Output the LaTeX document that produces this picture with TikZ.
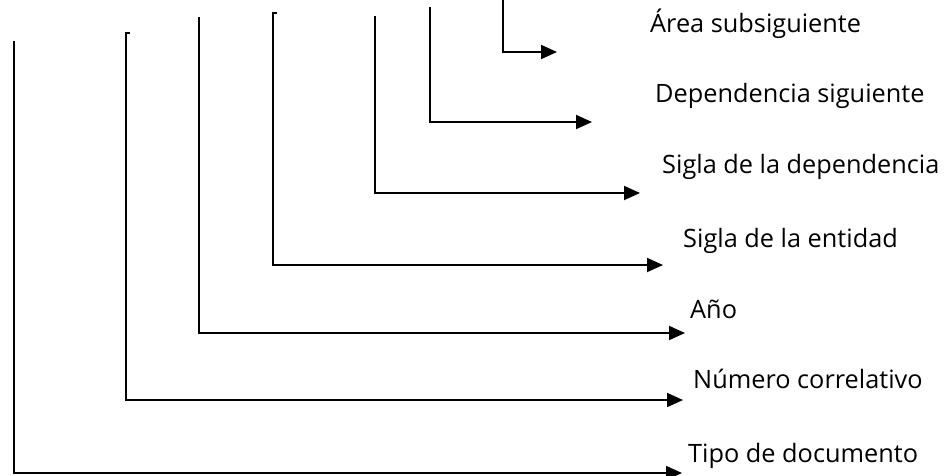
\documentclass[tikz,border=0pt]{standalone}
\usepackage{fontspec}
\setmainfont{Open Sans}
\usetikzlibrary{arrows.meta}

\tikzset{
  label/.style={anchor=base west, inner sep=0pt, font=\fontsize{25.3}{28}\selectfont},
  wire/.style={line width=1.9pt, -{Triangle[length=16pt,width=14pt]}},
}

\begin{document}
\begin{tikzpicture}[x=1pt,y=-1pt]
\useasboundingbox (0,0) rectangle (947,475);

% etiquetas
\node[label] (area)  at (650,32)  {Área subsiguiente};
\node[label] (dep)   at (655,102) {Dependencia siguiente};
\node[label] (sdep)  at (662,173) {Sigla de la dependencia};
\node[label] (sent)  at (683,247) {Sigla de la entidad};
\node[label] (anio)  at (690,318) {Año};
\node[label] (num)   at (693,388) {Número correlativo};
\node[label] (tipo)  at (688,462) {Tipo de documento};

% inicios de las lineas
\coordinate (sarea) at (503,0);
\coordinate (sdepx) at (430,7);
\coordinate (ssdep) at (375,16);
\coordinate (ssent) at (273,13);
\coordinate (sanio) at (199,17);
\coordinate (snum)  at (126,33);
\coordinate (stipo) at (14,41);

% extremos de las flechas
\coordinate (tarea) at (557,52);
\coordinate (tdep)  at (592,122);
\coordinate (tsdep) at (640,193);
\coordinate (tsent) at (663,265);
\coordinate (tanio) at (685,333);
\coordinate (tnum)  at (683,400);
\coordinate (ttipo) at (682,473);

% lineas
\draw[wire] (sarea) |- (tarea);
\draw[wire] (sdepx) |- (tdep);
\draw[wire] (ssdep) |- (tsdep);
\draw[wire] ([xshift=4pt]ssent) -- (ssent) |- (tsent);
\draw[wire] (sanio) |- (tanio);
\draw[wire] ([xshift=4pt]snum) -- (snum) |- (tnum);
\draw[wire] (stipo) |- (ttipo);
\end{tikzpicture}
\end{document}
